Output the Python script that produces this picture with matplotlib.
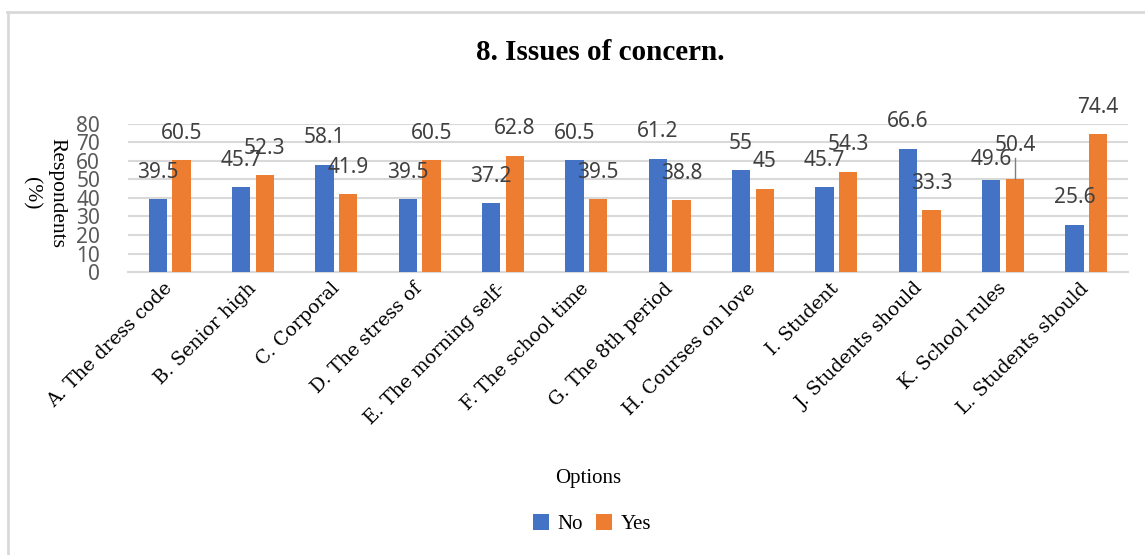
import matplotlib
matplotlib.use("Agg")
import matplotlib.pyplot as plt
import numpy as np
from matplotlib.lines import Line2D

# data
categories = [
    "A. The dress code", "B. Senior high", "C. Corporal", "D. The stress of",
    "E. The morning self-", "F. The school time", "G. The 8th period",
    "H. Courses on love", "I. Student", "J. Students should",
    "K. School rules", "L. Students should",
]
no_vals = [39.5, 45.7, 58.1, 39.5, 37.2, 60.5, 61.2, 55, 45.7, 66.6, 49.6, 25.6]
yes_vals = [60.5, 52.3, 41.9, 60.5, 62.8, 39.5, 38.8, 45, 54.3, 33.3, 50.4, 74.4]
no_text = ["39.5", "45.7", "58.1", "39.5", "37.2", "60.5", "61.2", "55", "45.7", "66.6", "49.6", "25.6"]
yes_text = ["60.5", "52.3", "41.9", "60.5", "62.8", "39.5", "38.8", "45", "54.3", "33.3", "50.4", "74.4"]
yticks = [0, 10, 20, 30, 40, 50, 60, 70, 80]

BLUE = "#4472C4"
ORANGE = "#ED7D31"
W, H = 1145, 555

fig = plt.figure(figsize=(W / 100, H / 100), dpi=100)
ax = fig.add_axes([128 / W, 1 - 272 / H, 1000 / W, 148 / H])

x = np.arange(len(categories))
bw = 0.22
off = 0.143
ax.bar(x - off, no_vals, bw, color=BLUE, label="No", zorder=3)
ax.bar(x + off, yes_vals, bw, color=ORANGE, label="Yes", zorder=3)

lbl_kw = dict(ha="center", va="center", fontsize=15, color="#404040",
              family=["Noto Sans", "DejaVu Sans"], clip_on=False, zorder=4)
for i in range(len(categories)):
    dy_no, dy_yes = 14.5, 14.5
    if i == 10:
        dy_no, dy_yes = 11, 17.8
        ax.plot([x[i] + off, x[i] + off], [yes_vals[i], yes_vals[i] + 11],
                color="#7f7f7f", lw=1, zorder=4)
    ax.text(x[i] - off, no_vals[i] + dy_no, no_text[i], **lbl_kw)
    ax.text(x[i] + off, yes_vals[i] + dy_yes, yes_text[i], **lbl_kw)

ax.set_xlim(-0.5, len(categories) - 0.5)
ax.set_ylim(0, 80)
ax.set_yticks(yticks)
ax.set_yticklabels([str(v) for v in yticks], fontsize=15, color="#595959",
                   family=["Noto Sans", "DejaVu Sans"])
ax.set_xticks(x)
ax.set_xticklabels(categories, rotation=45, ha="right", va="center",
                   rotation_mode="anchor", fontsize=13.5, family="DejaVu Serif",
                   color="black")
ax.tick_params(axis="both", length=0)
ax.tick_params(axis="y", pad=20)
ax.tick_params(axis="x", pad=10)
ax.yaxis.grid(True, color="#d9d9d9", lw=1.5, zorder=0)
for s in ["top", "right", "left"]:
    ax.spines[s].set_visible(False)
ax.spines["bottom"].set_color("#d9d9d9")
ax.spines["bottom"].set_linewidth(1.5)

serif = "Liberation Serif"
fig.text(600 / W, 1 - 53 / H, "8. Issues of concern.", ha="center", va="center",
         fontsize=21, fontweight="bold", family=serif)
fig.text(44 / W, 1 - 193 / H, "Respondents\n(%)", ha="center", va="center",
         rotation=270, fontsize=15.5, family=serif, multialignment="center",
         linespacing=1.5)
fig.text(588 / W, 1 - 478 / H, "Options", ha="center", va="center",
         fontsize=15, family=serif)

fig.legend(loc="center", bbox_to_anchor=(592 / W, 1 - 524 / H), ncol=2,
           frameon=False, prop={"family": serif, "size": 15},
           handlelength=0.8, handleheight=0.8, handletextpad=0.4,
           columnspacing=0.6)

# light gray chart border (top and left edges visible)
fig.add_artist(Line2D([7 / W, 1], [1 - 12 / H, 1 - 12 / H], transform=fig.transFigure,
                      color="#d9d9d9", lw=2))
fig.add_artist(Line2D([8 / W, 8 / W], [0, 1 - 12 / H], transform=fig.transFigure,
                      color="#d9d9d9", lw=2))

fig.savefig("out.png", dpi=100)
